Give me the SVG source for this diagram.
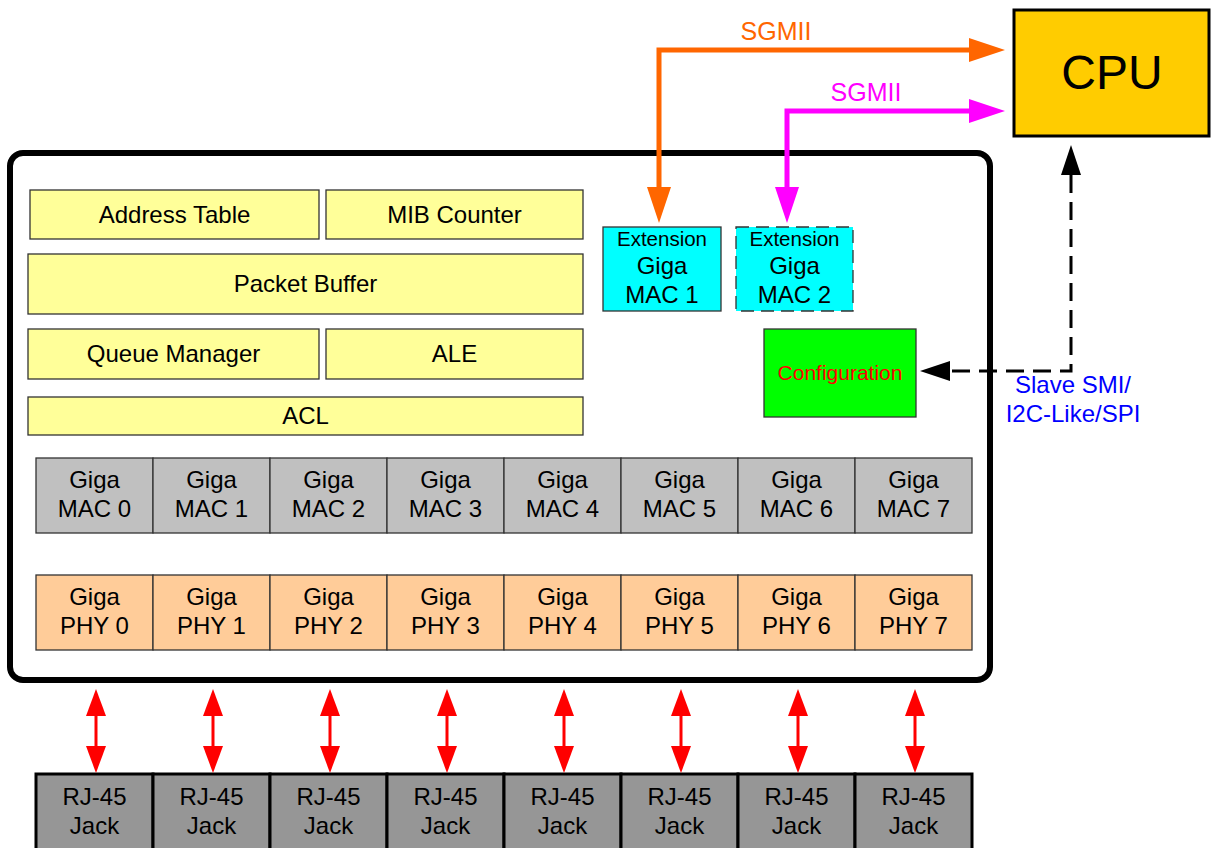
<svg xmlns="http://www.w3.org/2000/svg" width="1211" height="848" viewBox="0 0 1211 848">
<style>
text{font-family:"Liberation Sans",Arial,sans-serif;fill:#000;text-anchor:middle}
.t24{font-size:24px}
.t20{font-size:20.5px}
.yel{fill:#FFFF99;stroke:#333;stroke-width:1.3}
.mac{fill:#C0C0C0;stroke:#333;stroke-width:1.3}
.phy{fill:#FFCC99;stroke:#333;stroke-width:1.3}
.jack{fill:#969696;stroke:#000;stroke-width:3}
.ext{fill:#00FFFF;stroke:#333;stroke-width:1.3}
.red{stroke:#FF0000;stroke-width:3;fill:none;marker-start:url(#mr);marker-end:url(#mr)}
</style>
<defs>
<marker id="mo" markerUnits="userSpaceOnUse" markerWidth="36" markerHeight="24" refX="0" refY="12" orient="auto-start-reverse" overflow="visible"><path d="M0,0 L36,12 L0,24 z" fill="#FF6600"/></marker>
<marker id="mm" markerUnits="userSpaceOnUse" markerWidth="36" markerHeight="24" refX="0" refY="12" orient="auto-start-reverse" overflow="visible"><path d="M0,0 L36,12 L0,24 z" fill="#FF00FF"/></marker>
<marker id="mk" markerUnits="userSpaceOnUse" markerWidth="30" markerHeight="20" refX="0" refY="10" orient="auto-start-reverse" overflow="visible"><path d="M0,0 L30,10 L0,20 z" fill="#000"/></marker>
<marker id="mr" markerUnits="userSpaceOnUse" markerWidth="27" markerHeight="20" refX="0" refY="10" orient="auto-start-reverse" overflow="visible"><path d="M0,0 L27,10 L0,20 z" fill="#FF0000"/></marker>
</defs>

<g id="chip"><rect x="10" y="153" width="980" height="527" rx="13" fill="#fff" stroke="#000" stroke-width="6"/></g>

<g id="cpu"><rect x="1014" y="10" width="195" height="126" fill="#FFCC00" stroke="#000" stroke-width="3"/><text x="1112" y="89" style="font-size:48px">CPU</text></g>

<g id="address-table"><rect class="yel" x="30" y="190" width="289" height="49"/><text class="t24" x="174.5" y="223">Address Table</text></g>
<g id="mib-counter"><rect class="yel" x="326" y="190" width="257" height="49"/><text class="t24" x="454.5" y="223">MIB Counter</text></g>
<g id="packet-buffer"><rect class="yel" x="28" y="254" width="555" height="60"/><text class="t24" x="305.5" y="292">Packet Buffer</text></g>
<g id="queue-manager"><rect class="yel" x="28" y="329" width="291" height="50"/><text class="t24" x="173.5" y="362">Queue Manager</text></g>
<g id="ale"><rect class="yel" x="326" y="329" width="257" height="50"/><text class="t24" x="454.5" y="362">ALE</text></g>
<g id="acl"><rect class="yel" x="28" y="397" width="555" height="38"/><text class="t24" x="305.5" y="424">ACL</text></g>

<g id="ext-mac-1"><rect class="ext" x="603" y="227" width="118" height="84"/><text class="t20" x="662" y="246">Extension</text><text class="t24" x="662" y="274">Giga</text><text class="t24" x="662" y="303">MAC 1</text></g>
<g id="ext-mac-2"><rect class="ext" x="736" y="227" width="117" height="84" stroke-dasharray="13 7"/><text class="t20" x="794.5" y="246">Extension</text><text class="t24" x="794.5" y="274">Giga</text><text class="t24" x="794.5" y="303">MAC 2</text></g>

<g id="configuration"><rect x="764" y="329" width="152" height="88" fill="#00FF00" stroke="#333" stroke-width="1.3"/><text x="840" y="380" style="font-size:21px;fill:#FF0000">Configuration</text></g>

<g id="mac-row">
<rect class="mac" x="36" y="458" width="117" height="75"/><text class="t24" x="94.5" y="488">Giga</text><text class="t24" x="94.5" y="517">MAC 0</text>
<rect class="mac" x="153" y="458" width="117" height="75"/><text class="t24" x="211.5" y="488">Giga</text><text class="t24" x="211.5" y="517">MAC 1</text>
<rect class="mac" x="270" y="458" width="117" height="75"/><text class="t24" x="328.5" y="488">Giga</text><text class="t24" x="328.5" y="517">MAC 2</text>
<rect class="mac" x="387" y="458" width="117" height="75"/><text class="t24" x="445.5" y="488">Giga</text><text class="t24" x="445.5" y="517">MAC 3</text>
<rect class="mac" x="504" y="458" width="117" height="75"/><text class="t24" x="562.5" y="488">Giga</text><text class="t24" x="562.5" y="517">MAC 4</text>
<rect class="mac" x="621" y="458" width="117" height="75"/><text class="t24" x="679.5" y="488">Giga</text><text class="t24" x="679.5" y="517">MAC 5</text>
<rect class="mac" x="738" y="458" width="117" height="75"/><text class="t24" x="796.5" y="488">Giga</text><text class="t24" x="796.5" y="517">MAC 6</text>
<rect class="mac" x="855" y="458" width="117" height="75"/><text class="t24" x="913.5" y="488">Giga</text><text class="t24" x="913.5" y="517">MAC 7</text>
</g>

<g id="phy-row">
<rect class="phy" x="36" y="575" width="117" height="75"/><text class="t24" x="94.5" y="605">Giga</text><text class="t24" x="94.5" y="634">PHY 0</text>
<rect class="phy" x="153" y="575" width="117" height="75"/><text class="t24" x="211.5" y="605">Giga</text><text class="t24" x="211.5" y="634">PHY 1</text>
<rect class="phy" x="270" y="575" width="117" height="75"/><text class="t24" x="328.5" y="605">Giga</text><text class="t24" x="328.5" y="634">PHY 2</text>
<rect class="phy" x="387" y="575" width="117" height="75"/><text class="t24" x="445.5" y="605">Giga</text><text class="t24" x="445.5" y="634">PHY 3</text>
<rect class="phy" x="504" y="575" width="117" height="75"/><text class="t24" x="562.5" y="605">Giga</text><text class="t24" x="562.5" y="634">PHY 4</text>
<rect class="phy" x="621" y="575" width="117" height="75"/><text class="t24" x="679.5" y="605">Giga</text><text class="t24" x="679.5" y="634">PHY 5</text>
<rect class="phy" x="738" y="575" width="117" height="75"/><text class="t24" x="796.5" y="605">Giga</text><text class="t24" x="796.5" y="634">PHY 6</text>
<rect class="phy" x="855" y="575" width="117" height="75"/><text class="t24" x="913.5" y="605">Giga</text><text class="t24" x="913.5" y="634">PHY 7</text>
</g>

<g id="jacks">
<rect class="jack" x="36" y="774" width="117" height="80"/><text class="t24" x="94.5" y="805">RJ-45</text><text class="t24" x="94.5" y="834">Jack</text>
<rect class="jack" x="153" y="774" width="117" height="80"/><text class="t24" x="211.5" y="805">RJ-45</text><text class="t24" x="211.5" y="834">Jack</text>
<rect class="jack" x="270" y="774" width="117" height="80"/><text class="t24" x="328.5" y="805">RJ-45</text><text class="t24" x="328.5" y="834">Jack</text>
<rect class="jack" x="387" y="774" width="117" height="80"/><text class="t24" x="445.5" y="805">RJ-45</text><text class="t24" x="445.5" y="834">Jack</text>
<rect class="jack" x="504" y="774" width="117" height="80"/><text class="t24" x="562.5" y="805">RJ-45</text><text class="t24" x="562.5" y="834">Jack</text>
<rect class="jack" x="621" y="774" width="117" height="80"/><text class="t24" x="679.5" y="805">RJ-45</text><text class="t24" x="679.5" y="834">Jack</text>
<rect class="jack" x="738" y="774" width="117" height="80"/><text class="t24" x="796.5" y="805">RJ-45</text><text class="t24" x="796.5" y="834">Jack</text>
<rect class="jack" x="855" y="774" width="117" height="80"/><text class="t24" x="913.5" y="805">RJ-45</text><text class="t24" x="913.5" y="834">Jack</text>
</g>

<g id="connectors">
<path d="M659,187 L659,50 L969,50" fill="none" stroke="#FF6600" stroke-width="5" marker-start="url(#mo)" marker-end="url(#mo)"/>
<text x="776" y="40" style="font-size:25px;fill:#FF6600">SGMII</text>
<path d="M787,187 L787,111 L969,111" fill="none" stroke="#FF00FF" stroke-width="5" marker-start="url(#mm)" marker-end="url(#mm)"/>
<text x="866" y="101" style="font-size:25px;fill:#FF00FF">SGMII</text>
<path d="M1071,175 L1071,371 L950,371" fill="none" stroke="#000" stroke-width="3" stroke-dasharray="18 9" marker-start="url(#mk)" marker-end="url(#mk)"/>
<text x="1073" y="393" style="font-size:24px;fill:#0000FF">Slave SMI/</text>
<text x="1073" y="422" style="font-size:24px;fill:#0000FF">I2C-Like/SPI</text>
<path class="red" d="M96,716 L96,746"/>
<path class="red" d="M213,716 L213,746"/>
<path class="red" d="M330,716 L330,746"/>
<path class="red" d="M447,716 L447,746"/>
<path class="red" d="M564,716 L564,746"/>
<path class="red" d="M681,716 L681,746"/>
<path class="red" d="M798,716 L798,746"/>
<path class="red" d="M915,716 L915,746"/>
</g>
</svg>
